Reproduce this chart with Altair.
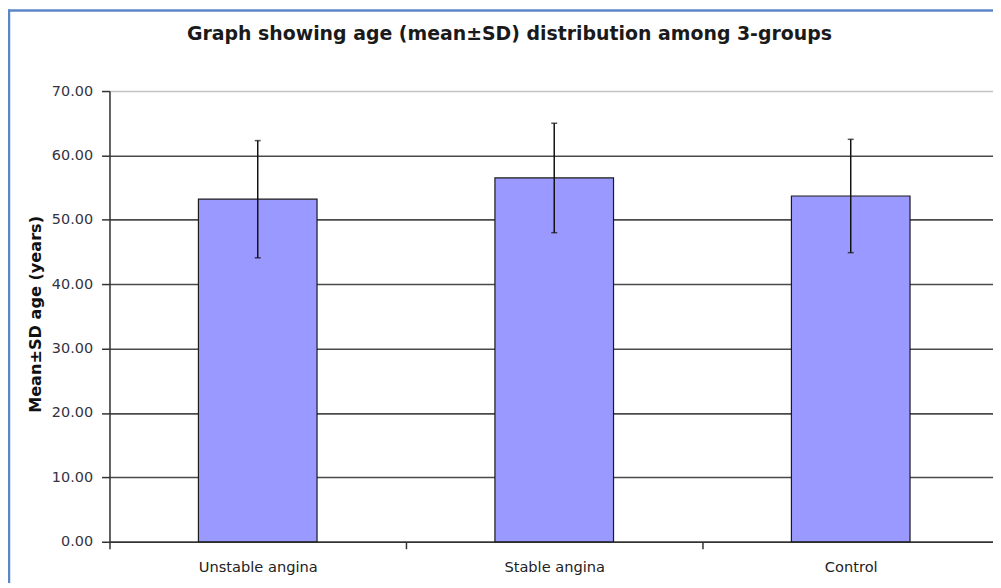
import altair as alt
import pandas as pd

groups = ["Unstable angina", "Stable angina", "Control"]
means = [53.2, 56.5, 53.7]
sds = [9.1, 8.5, 8.8]
y_ticks = [0, 10, 20, 30, 40, 50, 60, 70]

df = pd.DataFrame({
    "group": groups,
    "mean": means,
    "lo": [m - s for m, s in zip(means, sds)],
    "hi": [m + s for m, s in zip(means, sds)],
})

FONT = "DejaVu Sans"

x_scale = alt.Scale(paddingInner=0, paddingOuter=0, range=[0, 894])

x_enc = alt.X(
    "group:N",
    sort=groups,
    scale=x_scale,
    axis=alt.Axis(
        title=None,
        labelAngle=0,
        labelFont=FONT,
        labelFontSize=14.7,
        labelColor="#222222",
        labelPadding=11,
        tickBand="extent",
        tickSize=7,
        tickColor="#333333",
        tickWidth=1.5,
        domainColor="#333333",
        domainWidth=1.5,
        grid=False,
    ),
)

y_scale = alt.Scale(domain=[0, 70], nice=False, zero=True)

bars = alt.Chart(df).mark_bar(
    color="#9999ff", stroke="#1a1a1a", strokeWidth=1.2, width={"band": 0.4}
).encode(
    x=x_enc,
    y=alt.Y(
        "mean:Q",
        scale=y_scale,
        axis=alt.Axis(
            values=y_ticks,
            format=".2f",
            title="Mean\u00b1SD age (years)",
            titleFont=FONT,
            titleFontSize=16.2,
            titleFontWeight="bold",
            titleColor="#111111",
            titleAngle=270,
            titleX=-74,
            titleY=224,
            titleAlign="center",
            titleBaseline="middle",
            labelFont=FONT,
            labelFontSize=14.5,
            labelColor="#333344",
            labelPadding=9,
            tickSize=8,
            tickColor="#333333",
            tickWidth=1.5,
            domainColor="#333333",
            domainWidth=1.5,
            grid=True,
            gridColor={"condition": {"test": "datum.value === 70", "value": "#c4c4c4"}, "value": "#4a4a4a"},
            gridWidth=1.6,
        ),
    ),
)

err = alt.Chart(df).mark_rule(color="#111111", strokeWidth=1.5).encode(
    x=alt.X("group:N", sort=groups, scale=x_scale),
    y=alt.Y("lo:Q", scale=y_scale),
    y2="hi:Q",
)
cap_hi = alt.Chart(df).mark_tick(color="#111111", thickness=1.5, size=6).encode(
    x=alt.X("group:N", sort=groups, scale=x_scale),
    y=alt.Y("hi:Q", scale=y_scale),
)
cap_lo = alt.Chart(df).mark_tick(color="#111111", thickness=1.5, size=6).encode(
    x=alt.X("group:N", sort=groups, scale=x_scale),
    y=alt.Y("lo:Q", scale=y_scale),
)

frame_data = alt.Data(values=[{}])
frame_left = alt.Chart(frame_data).mark_rule(color="#5b87c8", strokeWidth=2.5).encode(
    x=alt.value(-101), y=alt.value(-82), y2=alt.value(495)
)
frame_top = alt.Chart(frame_data).mark_rule(color="#5b87c8", strokeWidth=2.5).encode(
    x=alt.value(-102), x2=alt.value(900), y=alt.value(-81)
)

chart = alt.layer(bars, err, cap_hi, cap_lo, frame_left, frame_top).properties(
    width=888,
    height=453,
    autosize=alt.AutoSizeParams(type="none"),
    padding={"left": 102, "top": 82, "right": 0, "bottom": 40},
    title=alt.TitleParams(
        text="Graph showing age (mean\u00b1SD) distribution among 3-groups",
        font=FONT,
        fontSize=19,
        fontWeight="bold",
        color="#1a1a1a",
        anchor="middle",
        dx=-42,
        offset=-36,
    ),
).configure_view(stroke=None).configure(background="white")

chart.save("out.html", embed_options={"renderer": "svg", "actions": False})
